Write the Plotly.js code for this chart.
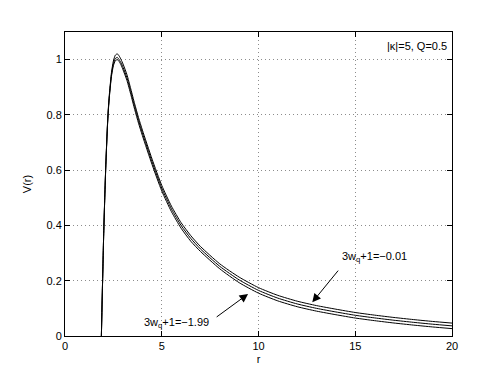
<!DOCTYPE html>
<html>
<head>
<meta charset="utf-8">
<script src="https://cdn.plot.ly/plotly-3.0.1.min.js"></script>
<style>html,body{margin:0;padding:0;background:#fff;}#plot{width:498px;height:375px;}</style>
</head>
<body>
<div id="plot"></div>
<script>
// r values (horizontal axis)
const r = [1.88,1.92,1.96,2.0,2.05, 2.1,2.15,2.2,2.25,2.3, 2.4,2.5,2.6,2.7,2.8,
           2.9,3.0,3.2,3.4,3.6, 3.8,4.0,4.5,5.0,5.5, 6.0,6.5,7,8,9,
           10,11,12,13,14, 15,16,17,18,19, 20];
// V(r), upper curve (3w_q+1 = -0.01)
const vTop = [0,0.13,0.25,0.37,0.491, 0.602,0.693,0.774,0.835,0.881, 0.953,0.995,1.016,1.021,1.013,
              1.0,0.984,0.946,0.894,0.84, 0.79,0.745,0.64,0.545,0.47, 0.41,0.363,0.324,0.261,0.213,
              0.175,0.147,0.126,0.110,0.097, 0.085,0.0755,0.067,0.0595,0.0527, 0.0467];
// V(r), middle curve
const vMid = [0,0.13,0.25,0.37,0.49, 0.60,0.69,0.77,0.83,0.875, 0.945,0.985,1.004,1.008,1.0,
              0.988,0.972,0.935,0.884,0.83, 0.78,0.735,0.63,0.535,0.46, 0.40,0.353,0.315,0.252,0.203,
              0.165,0.137,0.116,0.100,0.087, 0.075,0.0655,0.057,0.0495,0.0427, 0.0367];
// V(r), lower curve (3w_q+1 = -1.99)
const vBot = [0,0.13,0.25,0.37,0.489, 0.598,0.687,0.766,0.826,0.87, 0.939,0.978,0.996,1.0,0.993,
              0.98,0.963,0.925,0.874,0.82, 0.77,0.725,0.62,0.525,0.45, 0.39,0.343,0.306,0.243,0.193,
              0.155,0.127,0.106,0.090,0.077, 0.065,0.0555,0.047,0.0395,0.0327, 0.0267];

const xTicks = [0,5,10,15,20];
const yTicks = [0,0.2,0.4,0.6,0.8,1];
const yTickText = ['0','0.2','0.4','0.6','0.8','1'];

const label1 = '3w<sub>q</sub>+1=−0.01';
const label2 = '3w<sub>q</sub>+1=−1.99';
const paramText = '|κ|=5, Q=0.5';

const font = 'Liberation Sans, Arial, Helvetica, sans-serif';
const lineStyle = {color:'#000', width:1, shape:'spline', smoothing:0.6};

const traces = [vTop, vMid, vBot].map(v => ({
  x: r, y: v, type:'scatter', mode:'lines', line: lineStyle, hoverinfo:'skip', showlegend:false
}));

const axisCommon = {
  showline:true, linecolor:'#000', linewidth:1, mirror:'ticks',
  ticks:'inside', ticklen:5, tickcolor:'#000', tickwidth:1,
  showgrid:true, gridcolor:'#8c8c8c', griddash:'1px,3px', gridwidth:1,
  zeroline:false, tickfont:{family:font, size:11, color:'#000'}
};

const layout = {
  width:498, height:375,
  margin:{l:65, r:46, t:32, b:39},
  paper_bgcolor:'#fff', plot_bgcolor:'#fff',
  font:{family:font, size:11, color:'#000'},
  showlegend:false,
  xaxis: Object.assign({}, axisCommon, {
    range:[0,20], tickvals:xTicks, ticktext:xTicks.map(String),
    title:{text:'r', font:{family:font,size:11}, standoff:4}
  }),
  yaxis: Object.assign({}, axisCommon, {
    range:[0,1.1], tickvals:yTicks, ticktext:yTickText,
    title:{text:'V(r)', font:{family:font,size:11}, standoff:12}
  }),
  annotations:[
    {x:19.82, y:1.051, xref:'x', yref:'y', text:paramText, showarrow:false,
     xanchor:'right', yanchor:'middle', font:{family:font,size:11,color:'#000'}},
    {x:14.23, y:0.286, xref:'x', yref:'y', text:label1, showarrow:false,
     xanchor:'left', yanchor:'middle', font:{family:font,size:11,color:'#000'}},
    {x:3.97, y:0.046, xref:'x', yref:'y', text:label2, showarrow:false,
     xanchor:'left', yanchor:'middle', font:{family:font,size:11,color:'#000'}},
    {x:12.78, y:0.122, ax:14.18, ay:0.242, xref:'x', yref:'y', axref:'x', ayref:'y',
     text:'', showarrow:true, arrowhead:2, arrowsize:1.7, arrowwidth:1, arrowcolor:'#000'},
    {x:9.46, y:0.152, ax:7.76, ay:0.065, xref:'x', yref:'y', axref:'x', ayref:'y',
     text:'', showarrow:true, arrowhead:2, arrowsize:1.7, arrowwidth:1, arrowcolor:'#000'}
  ]
};

Plotly.newPlot('plot', traces, layout, {displayModeBar:false, staticPlot:true});
</script>
</body>
</html>
